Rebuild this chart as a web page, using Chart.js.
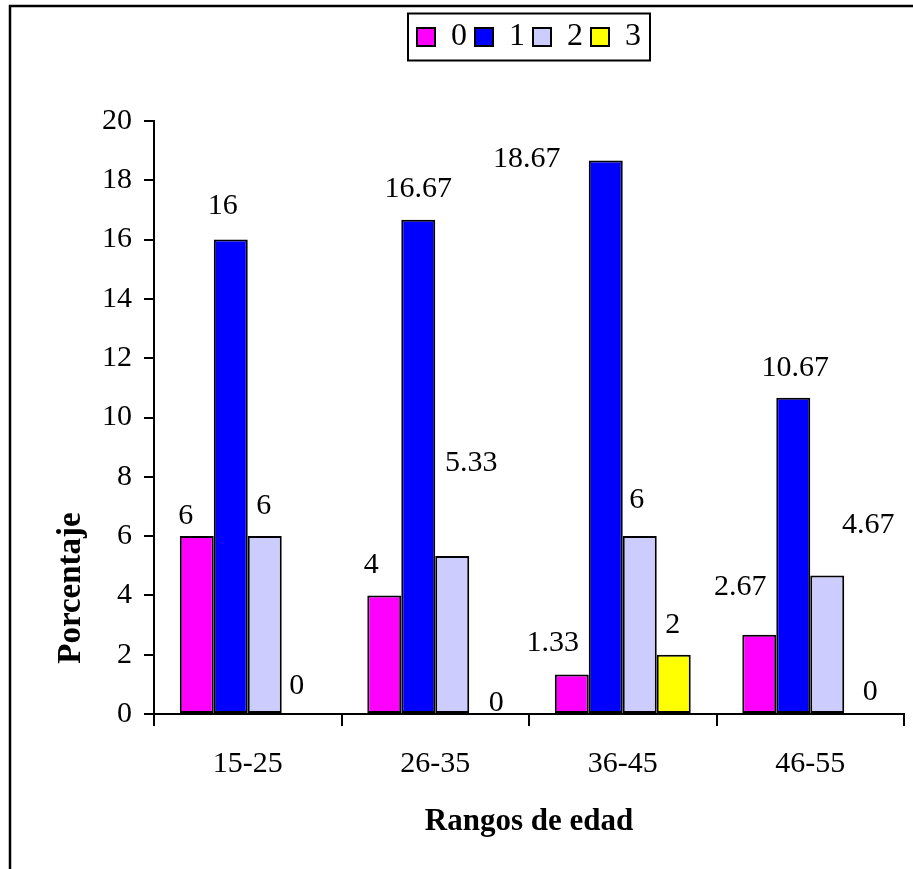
<!DOCTYPE html>
<html>
<head>
<meta charset="utf-8">
<script src="https://cdn.jsdelivr.net/npm/chart.js@4/dist/chart.umd.min.js"></script>
<style>
  html, body { margin: 0; padding: 0; background: #ffffff; }
  #wrap { width: 913px; height: 869px; }
</style>
</head>
<body>
<div id="wrap"><canvas id="chart" width="913" height="869"></canvas></div>
<script>
// Age ranges and the share (%) of each group per score level
const categories = ['15-25', '26-35', '36-45', '46-55'];
const seriesNames = ['0', '1', '2', '3'];
const values0 = [6, 4, 1.33, 2.67];
const values1 = [16, 16.67, 18.67, 10.67];
const values2 = [6, 5.33, 6, 4.67];
const values3 = [0, 0, 2, 0];
const yMin = 0;
const yMax = 20;
const yStep = 2;
const xTitle = 'Rangos de edad';
const yTitle = 'Porcentaje';

// Value-label placement, [dx, dy] from the top centre of each bar
const labelShift0 = [[-11, -20], [-13, -30], [-19, -31], [-19, -48]];
const labelShift1 = [[-8, -33], [0, -31], [-79, -1], [2, -30]];
const labelShift2 = [[-1, -30], [19, -93], [-3, -36], [41, -50]];
const labelShift3 = [[-2, -28], [10, -11], [-1, -30], [9, -22]];

const FONT = '"Liberation Serif", "Times New Roman", Times, serif';
const colors = ['#FF00FF', '#0000FF', '#CCCCFF', '#FFFF00'];
const allValues = [values0, values1, values2, values3];
const allShifts = [labelShift0, labelShift1, labelShift2, labelShift3];

const datasets = seriesNames.map((name, i) => ({
  label: name,
  data: allValues[i],
  backgroundColor: colors[i],
  borderColor: '#000000',
  borderWidth: 2,
  borderSkipped: false,
  barPercentage: 1.0,
  categoryPercentage: 0.725
}));

// White page with the framing lines on the top and left edges
const framePlugin = {
  id: 'frame',
  beforeDraw(chart) {
    const ctx = chart.ctx;
    ctx.save();
    ctx.fillStyle = '#ffffff';
    ctx.fillRect(0, 0, chart.width, chart.height);
    ctx.restore();
  },
  afterDraw(chart) {
    const ctx = chart.ctx;
    ctx.save();
    ctx.strokeStyle = '#000000';
    ctx.lineWidth = 2.5;
    ctx.beginPath();
    ctx.moveTo(10, chart.height + 5);
    ctx.lineTo(10, 6);
    ctx.lineTo(chart.width + 5, 6);
    ctx.stroke();
    ctx.restore();
  }
};

// Reserve a fixed band for the legend and draw a box round it
const legendBandPlugin = {
  id: 'legendBand',
  beforeLayout(chart) {
    const lg = chart.legend;
    if (lg && !lg.__band) {
      const fit = lg.fit;
      lg.fit = function () {
        fit.call(this);
        this.height = 108;
      };
      lg.__band = true;
    }
  },
  afterDraw(chart) {
    const lg = chart.legend;
    if (!lg || !lg.legendHitBoxes || !lg.legendHitBoxes.length) return;
    const boxes = lg.legendHitBoxes;
    const l = Math.min(...boxes.map(b => b.left)) - 9;
    const r = Math.max(...boxes.map(b => b.left + b.width)) + 9;
    const cy = boxes[0].top + boxes[0].height / 2;
    const ctx = chart.ctx;
    ctx.save();
    ctx.strokeStyle = '#000000';
    ctx.lineWidth = 2;
    ctx.strokeRect(l, cy - 23.5, r - l, 47);
    ctx.restore();
  }
};

// Value labels and the vertical axis title
const labelsPlugin = {
  id: 'valueLabels',
  afterDatasetsDraw(chart) {
    const ctx = chart.ctx;
    ctx.save();
    ctx.fillStyle = '#000000';
    ctx.font = '30px ' + FONT;
    ctx.textAlign = 'center';
    ctx.textBaseline = 'middle';
    chart.data.datasets.forEach((ds, i) => {
      const meta = chart.getDatasetMeta(i);
      meta.data.forEach((bar, j) => {
        const s = allShifts[i][j];
        ctx.fillText(String(ds.data[j]), bar.x + s[0], bar.y + s[1]);
      });
    });
    ctx.restore();
  },
  afterDraw(chart) {
    const ctx = chart.ctx;
    ctx.save();
    ctx.fillStyle = '#000000';
    ctx.font = 'bold 33px ' + FONT;
    ctx.textAlign = 'center';
    ctx.textBaseline = 'middle';
    ctx.translate(71, 588);
    ctx.rotate(-Math.PI / 2);
    ctx.fillText(yTitle, 0, 0);
    ctx.restore();
  }
};

new Chart(document.getElementById('chart'), {
  type: 'bar',
  data: { labels: categories, datasets: datasets },
  options: {
    responsive: false,
    animation: false,
    devicePixelRatio: 1,
    layout: { padding: { top: 13, left: 0, right: 9, bottom: 28.4 } },
    plugins: {
      tooltip: { enabled: false },
      legend: {
        display: true,
        position: 'top',
        fullSize: false,
        align: 'center',
        labels: {
          color: '#000000',
          font: { family: FONT, size: 32 },
          boxWidth: 18,
          boxHeight: 18,
          padding: 8
        }
      }
    },
    scales: {
      x: {
        grid: {
          display: true,
          offset: true,
          drawOnChartArea: false,
          drawTicks: true,
          tickLength: 12,
          color: '#000000',
          lineWidth: 2
        },
        border: { display: true, color: '#000000', width: 2 },
        ticks: {
          color: '#000000',
          font: { family: FONT, size: 30 },
          padding: 20,
          maxRotation: 0
        },
        title: {
          display: true,
          text: xTitle,
          color: '#000000',
          font: { family: FONT, size: 31, weight: 'bold' },
          padding: 0
        },
        afterFit(scale) { scale.height = 126.6; }
      },
      y: {
        min: yMin,
        max: yMax,
        grid: {
          display: true,
          drawOnChartArea: false,
          drawTicks: true,
          tickLength: 10,
          color: '#000000',
          lineWidth: 2
        },
        border: { display: true, color: '#000000', width: 2 },
        ticks: {
          stepSize: yStep,
          color: '#000000',
          font: { family: FONT, size: 30 },
          padding: 12
        },
        afterFit(scale) { scale.width = 154; }
      }
    }
  },
  plugins: [framePlugin, legendBandPlugin, labelsPlugin]
});
</script>
</body>
</html>
